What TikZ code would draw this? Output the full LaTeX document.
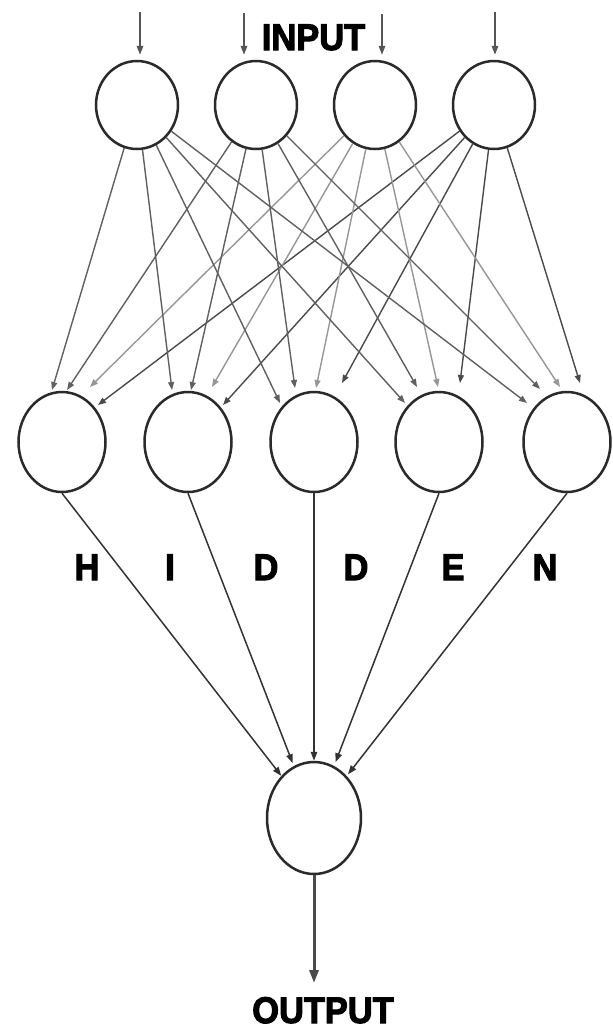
\documentclass[tikz,border=0pt]{standalone}
\usepackage{fontspec}
\newfontfamily\heavy{Liberation Sans Bold}[FakeBold=3]
\usetikzlibrary{shapes.geometric,arrows.meta}
\definecolor{ringc}{HTML}{2A2A2A}
\definecolor{linea}{HTML}{606060}
\definecolor{lineb}{HTML}{969696}
\definecolor{linec}{HTML}{4A4A4A}
\definecolor{lined}{HTML}{333333}
\tikzset{
  neuron/.style={ellipse, draw=ringc, line width=2.5pt, inner sep=0pt, fill=white},
  inneuron/.style={neuron, minimum width=82pt, minimum height=88pt},
  hidneuron/.style={neuron, minimum width=87pt, minimum height=100pt},
  outneuron/.style={neuron, minimum width=94pt, minimum height=112pt},
  tip/.style={-{Triangle[length=8pt,width=6pt]}},
  conna/.style={tip, draw=linea, line width=1.4pt},
  connb/.style={tip, draw=lineb, line width=1.4pt},
  connc/.style={tip, draw=linec, line width=1.4pt},
  hconn/.style={-{Triangle[length=9pt,width=6.5pt]}, draw=lined, line width=1.5pt},
  inarrow/.style={-{Triangle[length=9pt,width=6.5pt]}, draw=ringc!80, line width=1.8pt},
  outarrow/.style={-{Triangle[length=13pt,width=9pt]}, draw=ringc!85, line width=3pt},
  lbl/.style={font=\heavy\fontsize{37}{40}\selectfont, inner sep=0pt, anchor=base, xscale=0.93}
}
\begin{document}
\begin{tikzpicture}[x=1pt,y=-1pt]
\useasboundingbox (0,0) rectangle (613,1029);
% input layer
\node[inneuron] (i1) at (137,105) {};
\node[inneuron] (i2) at (256,105) {};
\node[inneuron] (i3) at (375,105) {};
\node[inneuron] (i4) at (494,105) {};
% hidden layer
\node[hidneuron] (h1) at (62,442) {};
\node[hidneuron] (h2) at (188,442) {};
\node[hidneuron] (h3) at (314,442) {};
\node[hidneuron] (h4) at (439,442) {};
\node[hidneuron] (h5) at (567,442) {};
% output
\node[outneuron] (out) at (314,818) {};
% labels
\node[lbl] (tin) at (313.5,50) {INPUT};
\node[lbl] (tH) at (87,580) {H};
\node[lbl] (tI) at (170,580) {I};
\node[lbl] (tD1) at (266,580) {D};
\node[lbl] (tD2) at (356,580) {D};
\node[lbl] (tE) at (453,580) {E};
\node[lbl] (tN) at (545,580) {N};
\node[lbl] (tout) at (323,1023) {OUTPUT};
% input arrows
\coordinate (a1) at (140,12);
\coordinate (a2) at (244,13);
\coordinate (a3) at (382,14);
\coordinate (a4) at (495,12);
\foreach \k in {1,2,3,4}{
  \draw[inarrow, shorten >=5pt] (a\k) -- (a\k |- i\k.north);
}
% arrow tips on hidden layer
\foreach \i/\h/\x/\y in {
  1/1/52/390, 2/1/67/390, 3/1/90/387, 4/1/98/405,
  1/2/172/390, 2/2/191/390, 3/2/212/387, 4/2/223/405,
  1/3/280/403, 2/3/295/388, 3/3/316/388, 4/3/342/383,
  1/4/405/403, 2/4/417/387, 3/4/438/387, 4/4/460/383,
  1/5/527/403, 2/5/540/389, 3/5/560/387, 4/5/580/383}{
  \coordinate (t\i\h) at (\x,\y);
}
\foreach \h in {1,...,5}{
  \draw[conna] (i1) -- (t1\h);
  \draw[conna] (i2) -- (t2\h);
  \draw[connb] (i3) -- (t3\h);
  \draw[connc] (i4) -- (t4\h);
}
% hidden to output
\draw[hconn] (h1.south) -- (out);
\draw[hconn, shorten >=3pt] (h2.south) -- (out);
\draw[hconn] (h3.south) -- (out);
\draw[hconn, shorten >=4pt] (h4.south) -- (out);
\draw[hconn, shorten >=2pt] (h5.south) -- (out);
% output arrow
\coordinate (oend) at (314,983);
\draw[outarrow] (out.south) -- (oend);
\end{tikzpicture}
\end{document}
